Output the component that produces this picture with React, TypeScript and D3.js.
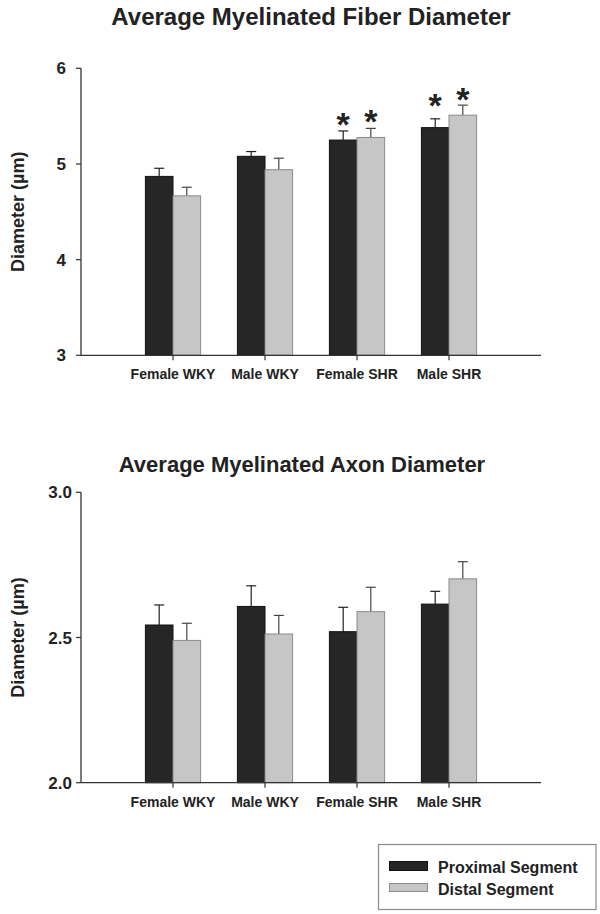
import React from "react";
import * as d3 from "d3";

const categories = ["Female WKY", "Male WKY", "Female SHR", "Male SHR"];
const seriesNames = ["Proximal Segment", "Distal Segment"];

// Chart 1: Average Myelinated Fiber Diameter
const fiberProximal = [4.87, 5.08, 5.25, 5.38];
const fiberProximalErr = [0.085, 0.05, 0.095, 0.092];
const fiberDistal = [4.667, 4.94, 5.277, 5.51];
const fiberDistalErr = [0.09, 0.12, 0.095, 0.105];
// significance asterisk centres (data units), null = none
const fiberProximalSig = [null, null, 5.49, 5.685];
const fiberDistalSig = [null, null, 5.52, 5.757];
const fiberTicks = [3, 4, 5, 6];

// Chart 2: Average Myelinated Axon Diameter
const axonProximal = [2.543, 2.607, 2.52, 2.615];
const axonProximalErr = [0.069, 0.071, 0.084, 0.044];
const axonDistal = [2.49, 2.512, 2.589, 2.702];
const axonDistalErr = [0.059, 0.064, 0.084, 0.059];
const axonTicks = [2.0, 2.5, 3.0];

const FONT = "'Liberation Sans', Arial, Helvetica, sans-serif";
const TEXT = "#222";
const DARK = "#262626";
const LIGHT = "#c6c6c6";

type PanelProps = {
  title: string;
  titleX: number;
  titleY: number;
  titleSize: number;
  prox: number[];
  proxErr: number[];
  dist: number[];
  distErr: number[];
  proxSig?: (number | null)[];
  distSig?: (number | null)[];
  domain: [number, number];
  range: [number, number];
  ticks: number[];
  tickFmt: (v: number) => string;
  tickLabelX: number;
};

function Panel(p: PanelProps) {
  const x = d3
    .scaleBand<string>()
    .domain(categories)
    .range([127, 495])
    .paddingInner(0.4)
    .paddingOuter(0.2);
  const sub = d3
    .scaleBand<string>()
    .domain(seriesNames)
    .range([0, x.bandwidth()]);
  const y = d3.scaleLinear().domain(p.domain).range(p.range);
  const axisX0 = x.range()[0] - x.step() / 2;
  const axisX1 = x.range()[1] + x.step() / 2;
  const y0 = y(p.domain[0]);
  const yMid = (p.range[0] + p.range[1]) / 2;
  const series = [
    { name: seriesNames[0], vals: p.prox, errs: p.proxErr, sig: p.proxSig, fill: DARK, stroke: "#111", err: "#222" },
    { name: seriesNames[1], vals: p.dist, errs: p.distErr, sig: p.distSig, fill: LIGHT, stroke: "#8a8a8a", err: "#444" },
  ];
  const capW = 10;
  return (
    <g>
      <text x={p.titleX} y={p.titleY} textAnchor="middle" fontFamily={FONT} fontWeight="bold" fontSize={p.titleSize} fill={TEXT}>
        {p.title}
      </text>
      <text transform={`translate(24,${yMid}) rotate(-90)`} textAnchor="middle" fontFamily={FONT} fontWeight="bold" fontSize={18} fill={TEXT}>
        Diameter (µm)
      </text>
      {series.map((s) =>
        s.vals.map((v, i) => {
          const cx = (x(categories[i]) as number) + (sub(s.name) as number);
          const w = sub.bandwidth();
          const top = y(v);
          const et = y(v + s.errs[i]);
          const mid = cx + w / 2;
          const sig = s.sig ? s.sig[i] : null;
          return (
            <g key={s.name + i}>
              <line x1={mid} x2={mid} y1={top} y2={et} stroke={s.err} strokeWidth={1.2} />
              <line x1={mid - capW / 2} x2={mid + capW / 2} y1={et} y2={et} stroke={s.err} strokeWidth={1.2} />
              <rect x={cx} y={top} width={w} height={y0 - top} fill={s.fill} stroke={s.stroke} strokeWidth={1} />
              {sig != null && (
                <text x={mid} y={y(sig) + 19} textAnchor="middle" fontFamily={FONT} fontWeight="bold" fontSize={34} fill={TEXT}>
                  *
                </text>
              )}
            </g>
          );
        })
      )}
      <line x1={axisX0} x2={axisX0} y1={p.range[1]} y2={y0} stroke="#333" strokeWidth={1.3} />
      <line x1={axisX0} x2={axisX1} y1={y0} y2={y0} stroke="#333" strokeWidth={1.3} />
      {p.ticks.map((t) => (
        <g key={t}>
          <line x1={axisX0 - 5} x2={axisX0} y1={y(t)} y2={y(t)} stroke="#333" strokeWidth={1.2} />
          <text x={p.tickLabelX} y={y(t)} dy="0.36em" textAnchor="end" fontFamily={FONT} fontWeight="bold" fontSize={17} fill={TEXT}>
            {p.tickFmt(t)}
          </text>
        </g>
      ))}
      {categories.map((c) => {
        const cx = (x(c) as number) + x.bandwidth() / 2;
        return (
          <g key={c}>
            <line x1={cx} x2={cx} y1={y0} y2={y0 + 5} stroke="#333" strokeWidth={1.2} />
            <text x={cx} y={y0 + 24} textAnchor="middle" fontFamily={FONT} fontWeight="bold" fontSize={14} fill={TEXT}>
              {c}
            </text>
          </g>
        );
      })}
    </g>
  );
}

export default function App() {
  return (
    <svg
      width={600}
      height={914}
      viewBox="0 0 600 914"
      style={{ position: "absolute", left: 0, top: 0, background: "#fff" }}
    >
      <rect x={0} y={0} width={600} height={914} fill="#fff" />
      <Panel
        title="Average Myelinated Fiber Diameter"
        titleX={311}
        titleY={25}
        titleSize={24}
        prox={fiberProximal}
        proxErr={fiberProximalErr}
        dist={fiberDistal}
        distErr={fiberDistalErr}
        proxSig={fiberProximalSig}
        distSig={fiberDistalSig}
        domain={[3, 6]}
        range={[355.3, 68.3]}
        ticks={fiberTicks}
        tickFmt={d3.format("d")}
        tickLabelX={66}
      />
      <Panel
        title="Average Myelinated Axon Diameter"
        titleX={302}
        titleY={472}
        titleSize={22}
        prox={axonProximal}
        proxErr={axonProximalErr}
        dist={axonDistal}
        distErr={axonDistalErr}
        domain={[2, 3]}
        range={[782.7, 492.3]}
        ticks={axonTicks}
        tickFmt={d3.format(".1f")}
        tickLabelX={72}
      />
      <g>
        <rect x={378.5} y={844.5} width={217.5} height={65} fill="#fff" stroke="#8a8a8a" strokeWidth={1.2} />
        {seriesNames.map((s, i) => (
          <g key={s}>
            <rect
              x={389.5}
              y={i === 0 ? 861.5 : 883.5}
              width={38}
              height={i === 0 ? 9 : 8}
              fill={i === 0 ? DARK : LIGHT}
              stroke={i === 0 ? "#111" : "#8a8a8a"}
              strokeWidth={1}
            />
            <text x={438} y={i === 0 ? 872.7 : 894.5} fontFamily={FONT} fontWeight="bold" fontSize={16} fill={TEXT}>
              {s}
            </text>
          </g>
        ))}
      </g>
    </svg>
  );
}
